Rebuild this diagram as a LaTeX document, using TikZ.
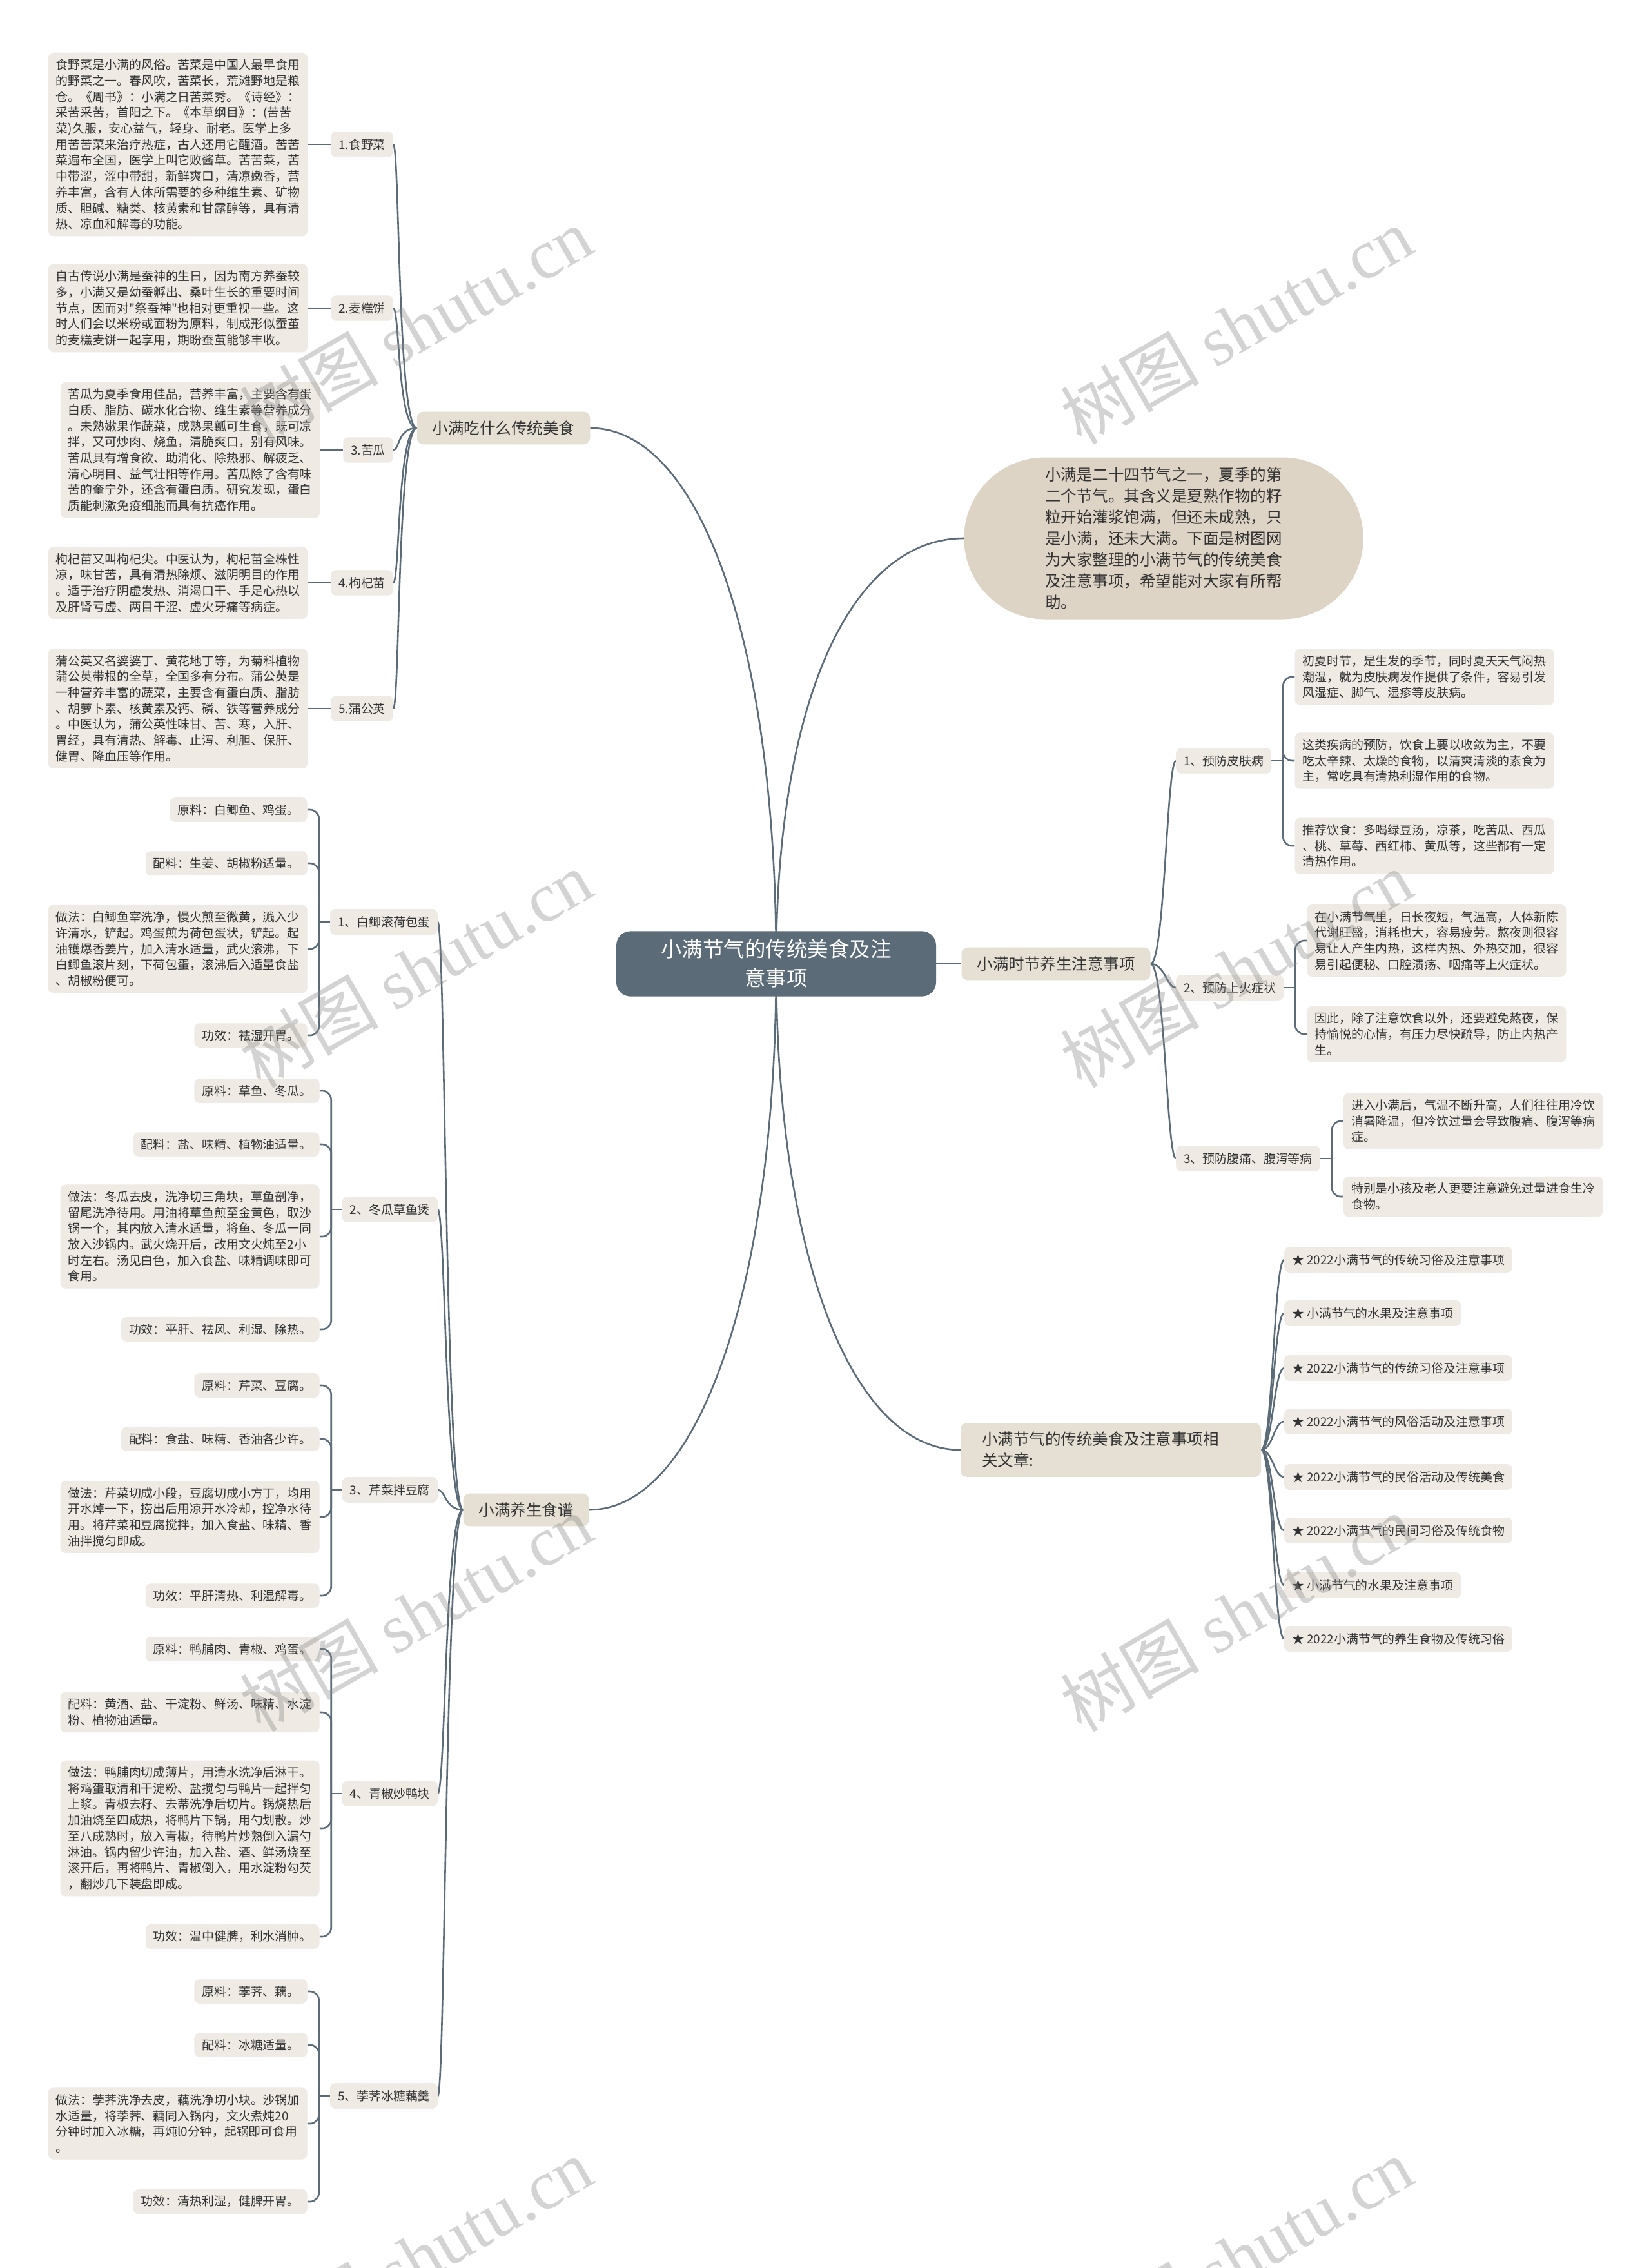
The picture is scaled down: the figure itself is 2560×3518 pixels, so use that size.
\documentclass[tikz,border=0pt]{standalone}
\usepackage{fontspec}
\setmainfont{Noto Sans CJK SC}
\newfontfamily\cjk{Noto Sans CJK SC}
\newfontfamily\wmlatin{Liberation Serif}
\usetikzlibrary{positioning,shapes.misc,calc}
\definecolor{linec}{HTML}{5B6B78}
\definecolor{leafc}{HTML}{EFEBE4}
\definecolor{brc}{HTML}{E6DFD3}
\definecolor{introc}{HTML}{DDD4C5}
\definecolor{ctrc}{HTML}{5B6B78}
\definecolor{txt}{HTML}{333333}
\pgfdeclarelayer{bg}
\pgfsetlayers{bg,main}
\newcommand\fsleaf{\cjk\fontsize{18.9pt}{24.7pt}\selectfont}
\newcommand\fsbr{\cjk\fontsize{24.5pt}{33pt}\selectfont}
\newcommand\fsctr{\cjk\fontsize{32.5pt}{45pt}\selectfont}
\newcommand\fswm{\cjk\fontsize{108pt}{108pt}\selectfont}
\tikzset{
  leaf/.style={fill=leafc, rounded corners=8pt, inner xsep=12pt, inner ysep=10pt, align=left, font=\fsleaf, text=txt},
  lab/.style={fill=leafc, rounded corners=8pt, inner xsep=12pt, inner ysep=11pt, font=\fsleaf, text=txt},
  br/.style={fill=brc, rounded corners=10pt, inner xsep=24pt, inner ysep=14pt, font=\fsbr, text=txt},
  ctrnode/.style={fill=ctrc, rounded corners=22pt, text width=380pt, align=center, inner xsep=58pt, inner ysep=13pt, font=\fsctr, text=white},
  intronode/.style={rounded rectangle, fill=introc, minimum width=626pt, minimum height=251pt, align=left, font=\fsbr, text=txt},
  conn/.style={draw=linec, line width=2.6pt},
  wm/.style={rotate=30, font=\fswm, text=black!45, opacity=0.38},
}
\begin{document}
\begin{tikzpicture}[x=1pt,y=-1pt]
\useasboundingbox (0,0) rectangle (2560,3518);
\begin{pgfonlayer}{bg}
\fill[white] (0,0) rectangle (2560,3518);
\end{pgfonlayer}

% ---------- centre and main branches ----------
\node[ctrnode] (ctr) at (1204,1495) {小满节气的传统美食及注\\意事项};
\node[br] (b1) at (781,664) {小满吃什么传统美食};
\node[br] (b2) at (1638,1495) {小满时节养生注意事项};
\node[br, text width=400pt, align=left, inner xsep=33pt] (b4) at (1723,2249) {小满节气的传统美食及注意事项相\\关文章:};
\node[br] (b3) at (816,2342) {小满养生食谱};
\node[intronode] (intro) at (1805,835) {小满是二十四节气之一，夏季的第\\二个节气。其含义是夏熟作物的籽\\粒开始灌浆饱满，但还未成熟，只\\是小满，还未大满。下面是树图网\\为大家整理的小满节气的传统美食\\及注意事项，希望能对大家有所帮\\助。};

% ---------- branch 1 ----------
\node[lab, anchor=east] (k1) at (610,224) {1.食野菜};
\node[lab, anchor=east] (k2) at (610,478) {2.麦糕饼};
\node[lab, anchor=east] (k3) at (610,698) {3.苦瓜};
\node[lab, anchor=east] (k4) at (610,904) {4.枸杞苗};
\node[lab, anchor=east] (k5) at (610,1099) {5.蒲公英};
\node[leaf, left=36pt of k1] (k1a) {食野菜是小满的风俗。苦菜是中国人最早食用\\的野菜之一。春风吹，苦菜长，荒滩野地是粮\\仓。《周书》：小满之日苦菜秀。《诗经》：\\采苦采苦，首阳之下。《本草纲目》：(苦苦\\菜)久服，安心益气，轻身、耐老。医学上多\\用苦苦菜来治疗热症，古人还用它醒酒。苦苦\\菜遍布全国，医学上叫它败酱草。苦苦菜，苦\\中带涩，涩中带甜，新鲜爽口，清凉嫩香，营\\养丰富，含有人体所需要的多种维生素、矿物\\质、胆碱、糖类、核黄素和甘露醇等，具有清\\热、凉血和解毒的功能。};
\node[leaf, left=36pt of k2] (k2a) {自古传说小满是蚕神的生日，因为南方养蚕较\\多，小满又是幼蚕孵出、桑叶生长的重要时间\\节点，因而对"祭蚕神"也相对更重视一些。这\\时人们会以米粉或面粉为原料，制成形似蚕茧\\的麦糕麦饼一起享用，期盼蚕茧能够丰收。};
\node[leaf, left=36pt of k3] (k3a) {苦瓜为夏季食用佳品，营养丰富，主要含有蛋\\白质、脂肪、碳水化合物、维生素等营养成分\\。未熟嫩果作蔬菜，成熟果瓤可生食，既可凉\\拌，又可炒肉、烧鱼，清脆爽口，别有风味。\\苦瓜具有增食欲、助消化、除热邪、解疲乏、\\清心明目、益气壮阳等作用。苦瓜除了含有味\\苦的奎宁外，还含有蛋白质。研究发现，蛋白\\质能刺激免疫细胞而具有抗癌作用。};
\node[leaf, left=36pt of k4] (k4a) {枸杞苗又叫枸杞尖。中医认为，枸杞苗全株性\\凉，味甘苦，具有清热除烦、滋阴明目的作用\\。适于治疗阴虚发热、消渴口干、手足心热以\\及肝肾亏虚、两目干涩、虚火牙痛等病症。};
\node[leaf, left=36pt of k5] (k5a) {蒲公英又名婆婆丁、黄花地丁等，为菊科植物\\蒲公英带根的全草，全国多有分布。蒲公英是\\一种营养丰富的蔬菜，主要含有蛋白质、脂肪\\、胡萝卜素、核黄素及钙、磷、铁等营养成分\\。中医认为，蒲公英性味甘、苦、寒，入肝、\\胃经，具有清热、解毒、止泻、利胆、保肝、\\健胃、降血压等作用。};

% ---------- branch 3 (recipes) ----------
\node[lab, anchor=east] (r1) at (679,1430) {1、白鲫滚荷包蛋};
\node[lab, anchor=east] (r2) at (679,1876) {2、冬瓜草鱼煲};
\node[lab, anchor=east] (r3) at (679,2311) {3、芹菜拌豆腐};
\node[lab, anchor=east] (r4) at (679,2782) {4、青椒炒鸭块};
\node[lab, anchor=east] (r5) at (679,3251) {5、荸荠冰糖藕羹};
\foreach \r in {r1,r2,r3,r4,r5}{
  \coordinate (\r x) at ([xshift=-35pt]\r.west);
  \coordinate (\r t) at ([xshift=-17pt]\r.west);
}
\node[leaf, anchor=east] (r1a) at (r1x |- 0,1256) {原料：白鲫鱼、鸡蛋。};
\node[leaf, anchor=east] (r1b) at (r1x |- 0,1339) {配料：生姜、胡椒粉适量。};
\node[leaf, anchor=east] (r1c) at (r1x |- 0,1472) {做法：白鲫鱼宰洗净，慢火煎至微黄，溅入少\\许清水，铲起。鸡蛋煎为荷包蛋状，铲起。起\\油镬爆香姜片，加入清水适量，武火滚沸，下\\白鲫鱼滚片刻，下荷包蛋，滚沸后入适量食盐\\、胡椒粉便可。};
\node[leaf, anchor=east] (r1d) at (r1x |- 0,1606) {功效：祛湿开胃。};

\node[leaf, anchor=east] (r2a) at (r2x |- 0,1692) {原料：草鱼、冬瓜。};
\node[leaf, anchor=east] (r2b) at (r2x |- 0,1775) {配料：盐、味精、植物油适量。};
\node[leaf, anchor=east] (r2c) at (r2x |- 0,1918) {做法：冬瓜去皮，洗净切三角块，草鱼剖净，\\留尾洗净待用。用油将草鱼煎至金黄色，取沙\\锅一个，其内放入清水适量，将鱼、冬瓜一同\\放入沙锅内。武火烧开后，改用文火炖至2小\\时左右。汤见白色，加入食盐、味精调味即可\\食用。};
\node[leaf, anchor=east] (r2d) at (r2x |- 0,2062) {功效：平肝、祛风、利湿、除热。};

\node[leaf, anchor=east] (r3a) at (r3x |- 0,2149) {原料：芹菜、豆腐。};
\node[leaf, anchor=east] (r3b) at (r3x |- 0,2232) {配料：食盐、味精、香油各少许。};
\node[leaf, anchor=east] (r3c) at (r3x |- 0,2353) {做法：芹菜切成小段，豆腐切成小方丁，均用\\开水焯一下，捞出后用凉开水冷却，控净水待\\用。将芹菜和豆腐搅拌，加入食盐、味精、香\\油拌搅匀即成。};
\node[leaf, anchor=east] (r3d) at (r3x |- 0,2475) {功效：平肝清热、利湿解毒。};

\node[leaf, anchor=east] (r4a) at (r4x |- 0,2558) {原料：鸭脯肉、青椒、鸡蛋。};
\node[leaf, anchor=east] (r4b) at (r4x |- 0,2656) {配料：黄酒、盐、干淀粉、鲜汤、味精、水淀\\粉、植物油适量。};
\node[leaf, anchor=east] (r4c) at (r4x |- 0,2836) {做法：鸭脯肉切成薄片，用清水洗净后淋干。\\将鸡蛋取清和干淀粉、盐搅匀与鸭片一起拌匀\\上浆。青椒去籽、去蒂洗净后切片。锅烧热后\\加油烧至四成热，将鸭片下锅，用勺划散。炒\\至八成熟时，放入青椒，待鸭片炒熟倒入漏勺\\淋油。锅内留少许油，加入盐、酒、鲜汤烧至\\滚开后，再将鸭片、青椒倒入，用水淀粉勾芡\\，翻炒几下装盘即成。};
\node[leaf, anchor=east] (r4d) at (r4x |- 0,3004) {功效：温中健脾，利水消肿。};

\node[leaf, anchor=east] (r5a) at (r5x |- 0,3089) {原料：荸荠、藕。};
\node[leaf, anchor=east] (r5b) at (r5x |- 0,3172) {配料：冰糖适量。};
\node[leaf, anchor=east] (r5c) at (r5x |- 0,3294) {做法：荸荠洗净去皮，藕洗净切小块。沙锅加\\水适量，将荸荠、藕同入锅内，文火煮炖20\\分钟时加入冰糖，再炖l0分钟，起锅即可食用\\。};
\node[leaf, anchor=east] (r5d) at (r5x |- 0,3415) {功效：清热利湿，健脾开胃。};

% ---------- branch 2 ----------
\node[lab, anchor=west] (s1) at (1824,1180) {1、预防皮肤病};
\node[lab, anchor=west] (s2) at (1824,1532) {2、预防上火症状};
\node[lab, anchor=west] (s3) at (1824,1797) {3、预防腹痛、腹泻等病};
\foreach \s in {s1,s2,s3}{
  \coordinate (\s x) at ([xshift=36pt]\s.east);
  \coordinate (\s t) at ([xshift=18pt]\s.east);
}
\node[leaf, anchor=west] (s1a) at (s1x |- 0,1050) {初夏时节，是生发的季节，同时夏天天气闷热\\潮湿，就为皮肤病发作提供了条件，容易引发\\风湿症、脚气、湿疹等皮肤病。};
\node[leaf, anchor=west] (s1b) at (s1x |- 0,1180) {这类疾病的预防，饮食上要以收敛为主，不要\\吃太辛辣、太燥的食物，以清爽清淡的素食为\\主，常吃具有清热利湿作用的食物。};
\node[leaf, anchor=west] (s1c) at (s1x |- 0,1312) {推荐饮食：多喝绿豆汤，凉茶，吃苦瓜、西瓜\\、桃、草莓、西红柿、黄瓜等，这些都有一定\\清热作用。};
\node[leaf, anchor=west] (s2a) at (s2x |- 0,1459) {在小满节气里，日长夜短，气温高，人体新陈\\代谢旺盛，消耗也大，容易疲劳。熬夜则很容\\易让人产生内热，这样内热、外热交加，很容\\易引起便秘、口腔溃疡、咽痛等上火症状。};
\node[leaf, anchor=west] (s2b) at (s2x |- 0,1604) {因此，除了注意饮食以外，还要避免熬夜，保\\持愉悦的心情，有压力尽快疏导，防止内热产\\生。};
\node[leaf, anchor=west] (s3a) at (s3x |- 0,1739) {进入小满后，气温不断升高，人们往往用冷饮\\消暑降温，但冷饮过量会导致腹痛、腹泻等病\\症。};
\node[leaf, anchor=west] (s3b) at (s3x |- 0,1856) {特别是小孩及老人更要注意避免过量进食生冷\\食物。};

% ---------- branch 4 ----------
\node[lab, anchor=west] (a1) at (1992,1954) {★ 2022小满节气的传统习俗及注意事项};
\node[lab, anchor=west] (a2) at (1992,2037) {★ 小满节气的水果及注意事项};
\node[lab, anchor=west] (a3) at (1992,2122) {★ 2022小满节气的传统习俗及注意事项};
\node[lab, anchor=west] (a4) at (1992,2205) {★ 2022小满节气的风俗活动及注意事项};
\node[lab, anchor=west] (a5) at (1992,2291) {★ 2022小满节气的民俗活动及传统美食};
\node[lab, anchor=west] (a6) at (1992,2374) {★ 2022小满节气的民间习俗及传统食物};
\node[lab, anchor=west] (a7) at (1992,2459) {★ 小满节气的水果及注意事项};
\node[lab, anchor=west] (a8) at (1992,2542) {★ 2022小满节气的养生食物及传统习俗};

% ---------- connectors ----------
\begin{pgfonlayer}{bg}
\draw[conn] (b1.east) .. controls +(170,0) and +(0,-500) .. (ctr.center);
\draw[conn] (intro.west) .. controls +(-170,0) and +(0,-420) .. (ctr.center);
\draw[conn] (ctr.center) -- (b2.west);
\draw[conn] (b4.west) .. controls +(-170,0) and +(0,450) .. (ctr.center);
\draw[conn] (b3.east) .. controls +(170,0) and +(0,500) .. (ctr.center);
\foreach \k in {k1,k2,k3,k4,k5}{
  \draw[conn] (b1.west) .. controls +(-30,0) and +(10,0) .. (\k.east);
  \draw[conn] (\k.west) -- (\k a.east);
}
\foreach \r in {r1,r2,r3,r4,r5}{
  \draw[conn] (b3.west) .. controls +(-28,0) and +(12,0) .. (\r.east);
  \draw[conn] (\r.west) -- (\r t);
  \foreach \i in {a,b,c,d}{
    \draw[conn, rounded corners=14pt] (\r t) |- (\r\i.east);
  }
}
\foreach \s in {s1,s2,s3}{
  \draw[conn] (b2.east) .. controls +(22,0) and +(-14,0) .. (\s.west);
  \draw[conn] (\s.east) -- (\s t);
}
\foreach \s/\i in {s1/a,s1/b,s1/c,s2/a,s2/b,s3/a,s3/b}{
  \draw[conn, rounded corners=14pt] (\s t) |- (\s\i.west);
}
\foreach \a in {a1,a2,a3,a4,a5,a6,a7,a8}{
  \draw[conn] (b4.east) .. controls +(18,0) and +(-16,0) .. (\a.west);
}
\end{pgfonlayer}

% ---------- watermarks ----------
\foreach \x/\n in {645/l,1918/r}{
  \foreach \y/\m in {505/1,1503/2,2502/3,3500/4}{
    \node[wm] (wm\n\m) at (\x,\y) {树图 {\wmlatin shutu.cn}};
  }
}
\end{tikzpicture}
\end{document}
